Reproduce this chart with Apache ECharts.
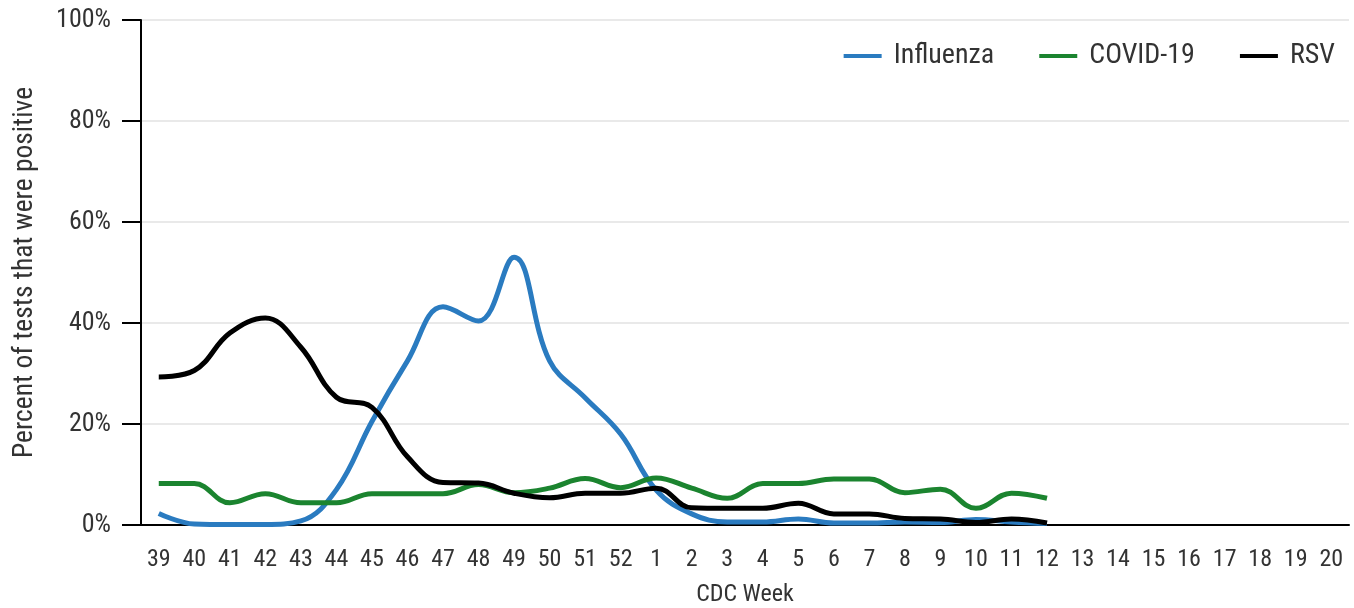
<!DOCTYPE html>
<html>
<head>
<meta charset="utf-8">
<script src="https://cdn.jsdelivr.net/npm/echarts@6/dist/echarts.min.js"></script>
<style>
  html, body { margin: 0; padding: 0; background: #fff; }
  #chart { width: 1354px; height: 608px; }
</style>
</head>
<body>
<div id="chart"></div>
<script>
// CDC weeks shown on the x axis
var weeks = ['39','40','41','42','43','44','45','46','47','48','49','50','51','52',
  '1','2','3','4','5','6','7','8','9','10','11','12','13','14','15','16','17','18','19','20'];

// percent positive (weeks 39 .. 12)
var influenza = [2.3, 0.2, 0.1, 0.1, 0.8, 7, 20.5, 32.5, 43.2, 40.4, 53, 32.5, 25.2, 18, 6.9, 2.2,
  0.6, 0.6, 1.2, 0.4, 0.4, 0.6, 0.5, 1.1, 0.6, 0.3];
var covid = [8.2, 8.2, 4.4, 6.2, 4.4, 4.4, 6.2, 6.2, 6.2, 8.0, 6.4, 7.3, 9.2, 7.4, 9.3, 7.3,
  5.3, 8.2, 8.2, 9.1, 9.1, 6.4, 7.1, 3.3, 6.3, 5.3];
var rsv = [29.3, 30.6, 38, 41, 35.2, 25.3, 23.3, 13.5, 8.4, 8.3, 6.3, 5.4, 6.3, 6.3, 7.3, 3.4,
  3.3, 3.3, 4.3, 2.2, 2.2, 1.3, 1.2, 0.5, 1.2, 0.4];

var yTicks = [0, 20, 40, 60, 80, 100];

var font = 'Roboto Condensed, Liberation Sans Narrow, Roboto, sans-serif';
var txt = '#333';

var chart = echarts.init(document.getElementById('chart'));

function line(name, data, color) {
  return {
    name: name,
    type: 'line',
    data: data,
    smooth: 0.4,
    symbol: 'none',
    lineStyle: { color: color, width: 5 },
    itemStyle: { color: color }
  };
}

chart.setOption({
  animation: false,
  textStyle: { fontFamily: font },
  grid: { left: 141, right: 5, top: 20, bottom: 83, outerBoundsMode: 'none' },
  legend: {
    right: 14,
    top: 37,
    icon: 'rect',
    itemWidth: 38,
    itemHeight: 4,
    itemGap: 45,
    textStyle: { fontFamily: font, fontSize: 28, color: txt, padding: [0, 0, 0, 7] },
    data: ['Influenza', 'COVID-19', 'RSV']
  },
  xAxis: {
    type: 'category',
    data: weeks,
    boundaryGap: true,
    name: 'CDC Week',
    nameLocation: 'middle',
    nameGap: 58,
    nameTextStyle: { fontFamily: font, fontSize: 24, color: txt },
    axisLine: { lineStyle: { color: '#000', width: 2 } },
    axisTick: { alignWithLabel: true, length: 18, lineStyle: { color: '#000', width: 2 } },
    axisLabel: { fontFamily: font, fontSize: 24, color: txt, margin: 23 },
    splitLine: { show: false }
  },
  yAxis: {
    type: 'value',
    min: 0,
    max: 100,
    interval: 20,
    name: 'Percent of tests that were positive',
    nameLocation: 'middle',
    nameGap: 102,
    nameTextStyle: { fontFamily: font, fontSize: 27.5, color: txt },
    axisLine: { show: true, lineStyle: { color: '#000', width: 2 } },
    axisTick: { show: true, length: 19, lineStyle: { color: '#000', width: 2 } },
    axisLabel: {
      fontFamily: font, fontSize: 26, color: txt, margin: 30,
      formatter: function (v) { return yTicks.indexOf(v) >= 0 ? v + '%' : ''; }
    },
    splitLine: { lineStyle: { color: '#e2e2e2', width: 1.5 } }
  },
  series: [
    line('Influenza', influenza, '#2a7bc0'),
    line('COVID-19', covid, '#1b842f'),
    line('RSV', rsv, '#000000')
  ]
});
</script>
</body>
</html>
